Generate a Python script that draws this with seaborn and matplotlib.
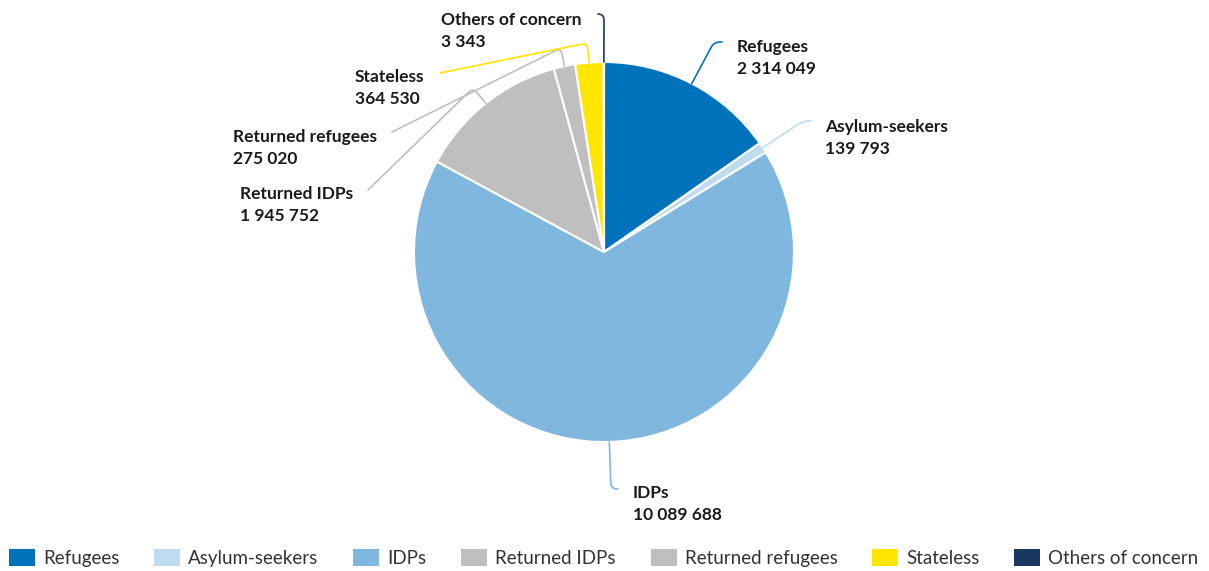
import numpy as np
import matplotlib
matplotlib.use("Agg")
import matplotlib.pyplot as plt
from matplotlib.patches import Patch
import seaborn as sns

# Population of concern by type
categories = ["Refugees", "Asylum-seekers", "IDPs", "Returned IDPs",
              "Returned refugees", "Stateless", "Others of concern"]
values = [2314049, 139793, 10089688, 1945752, 275020, 364530, 3343]
value_labels = ["2 314 049", "139 793", "10 089 688", "1 945 752",
                "275 020", "364 530", "3 343"]
colors = ["#0072BC", "#BFDCEE", "#80B7DE", "#BFBFBF",
          "#BFBFBF", "#FFE600", "#18375F"]

sns.set_theme(style="white")
plt.rcParams["font.family"] = ["Lato", "DejaVu Sans"]

W, H = 1209, 571
fig = plt.figure(figsize=(W / 100, H / 100), dpi=100)
ax = fig.add_axes([0, 0, 1, 1])


def Y(py):
    # pixel row from the top -> data y
    return H - py


cx, cy, r = 604, Y(252), 190
wedges, _ = ax.pie(values, colors=colors, startangle=90, counterclock=False,
                   center=(cx, cy), radius=r,
                   wedgeprops=dict(edgecolor="white", linewidth=1.5))
ax.set_xlim(0, W)
ax.set_ylim(0, H)
ax.set_aspect("equal")
ax.axis("off")

# label layout: text left x, first baseline, connector corner, connector end
layout = {
    "Refugees":          (737, 52, (714, 42), (722, 42)),
    "Asylum-seekers":    (825, 132, (803, 121), (811, 121)),
    "IDPs":              (633, 498, (611, 489), (618, 489)),
    "Returned IDPs":     (240, 199, (473, 88), (368, 190)),
    "Returned refugees": (233, 142, (561, 48), (392, 132)),
    "Stateless":         (355, 82, (587, 43), (440, 73)),
    "Others of concern": (441, 25, (604, 14), (598, 14)),
}

for w, name, vlab, col in zip(wedges, categories, value_labels, colors):
    tx, tb, corner, end = layout[name]
    mid = np.radians((w.theta1 + w.theta2) / 2)
    ex, ey = cx + r * np.cos(mid), cy + r * np.sin(mid)
    kx, ky = corner[0], Y(corner[1])
    px, py = end[0], Y(end[1])
    aA = np.degrees(np.arctan2(ky - py, kx - px))
    aB = np.degrees(np.arctan2(ky - ey, kx - ex))
    ax.annotate("", xy=(ex, ey), xytext=(px, py),
                arrowprops=dict(arrowstyle="-", color=col, lw=1.2,
                                shrinkA=0, shrinkB=0,
                                connectionstyle=f"angle,angleA={aA:.2f},angleB={aB:.2f},rad=6"))
    ax.text(tx, Y(tb), name, fontsize=12.5, fontweight="bold",
            color="#1a1a1a", ha="left", va="baseline")
    ax.text(tx, Y(tb + 22), vlab, fontsize=12.5, fontweight="bold",
            color="#1a1a1a", ha="left", va="baseline")

handles = [Patch(facecolor=c, edgecolor="none") for c in colors]
leg = fig.legend(handles, categories, loc="lower left",
                 bbox_to_anchor=(9 / W, 4 / H), ncol=7, frameon=False,
                 fontsize=13.5, handlelength=1.39, handleheight=1.0,
                 handletextpad=0.43, columnspacing=1.85,
                 borderpad=0, borderaxespad=0)
for t in leg.get_texts():
    t.set_color("#333333")

fig.savefig("out.png", dpi=100)
